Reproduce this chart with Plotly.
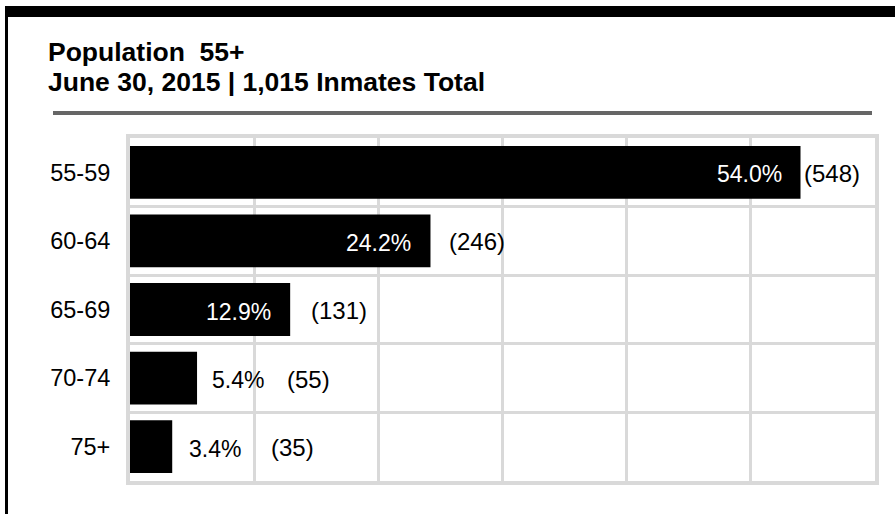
import plotly.graph_objects as go

# ---- data ----
age_groups = ["55-59", "60-64", "65-69", "70-74", "75+"]
percents = [54.0, 24.2, 12.9, 5.4, 3.4]
counts = [548, 246, 131, 55, 35]
title_line1 = "Population\u00a0 55+"
title_line2 = "June 30, 2015 | 1,015 Inmates Total"

# ---- layout geometry (pixels) ----
W, H = 895, 514
ML, MR, MT, MB = 130, 20, 138, 33
PW, PH = W - ML - MR, H - MT - MB

def px(x):
    return (x - ML) / PW

def py(y):
    return (H - MB - y) / PH

FONT = "Liberation Sans, Arial, sans-serif"
GRID = "#d9d9d9"

fig = go.Figure()
fig.add_trace(go.Bar(
    x=percents, y=age_groups, orientation="h",
    marker=dict(color="black", line=dict(width=0)),
    width=0.77, hoverinfo="skip",
))

# label style: percent inside for long bars, outside for short ones
pct_inside = [p > 10 for p in percents]
pct_shift = [-17, -17, -17, 13, 15]
count_shift = [1, 17, 19, 88, 97]

annotations = []
for cat, p, c, ins, ps, cs in zip(age_groups, percents, counts, pct_inside, pct_shift, count_shift):
    annotations.append(dict(
        x=p, y=cat, xref="x", yref="y", text=f"{p:.1f}%", showarrow=False,
        xanchor="right" if ins else "left", xshift=ps, yshift=-2,
        font=dict(family=FONT, size=23, color="white" if ins else "black"),
    ))
    annotations.append(dict(
        x=p, y=cat, xref="x", yref="y", text=f"({c})", showarrow=False,
        xanchor="left", xshift=cs, yshift=-1,
        font=dict(family=FONT, size=24, color="black"),
    ))

# two-line bold title
for txt, yc in [(title_line1, 52), (title_line2, 82)]:
    annotations.append(dict(
        x=px(46), y=py(yc), xref="paper", yref="paper", text=f"<b>{txt}</b>",
        showarrow=False, xanchor="left", yanchor="middle",
        font=dict(family=FONT, size=26.5, color="black"),
    ))

shapes = [
    # top black band
    dict(type="rect", xref="paper", yref="paper", x0=px(5), x1=px(895), y0=py(17), y1=py(6),
         fillcolor="black", line=dict(width=0), layer="above"),
    # left black rule
    dict(type="rect", xref="paper", yref="paper", x0=px(5), x1=px(8), y0=py(514), y1=py(6),
         fillcolor="black", line=dict(width=0), layer="above"),
    # gray rule under title
    dict(type="rect", xref="paper", yref="paper", x0=px(53), x1=px(872), y0=py(115), y1=py(111),
         fillcolor="#666666", line=dict(width=0), layer="above"),
]

fig.update_layout(
    width=W, height=H,
    margin=dict(l=ML, r=MR, t=MT, b=MB, pad=0),
    paper_bgcolor="white", plot_bgcolor="white",
    showlegend=False,
    bargap=0.23,
    annotations=annotations,
    shapes=shapes,
    xaxis=dict(
        range=[0, 60], dtick=10, showticklabels=False, ticks="",
        showgrid=True, gridcolor=GRID, gridwidth=3, zeroline=False,
        showline=True, linecolor=GRID, linewidth=4, mirror=True,
        fixedrange=True,
    ),
    yaxis=dict(
        type="category", categoryorder="array", categoryarray=age_groups,
        autorange="reversed", tickson="boundaries", ticks="",
        showgrid=True, gridcolor=GRID, gridwidth=3,
        showline=True, linecolor=GRID, linewidth=4, mirror=True,
        tickfont=dict(family=FONT, size=23.5, color="black"),
        ticklabelstandoff=11, fixedrange=True,
    ),
    font=dict(family=FONT),
)

fig.write_html(
    "out.html",
    config={"displayModeBar": False},
    post_script="document.body.style.margin='0';document.body.style.overflow='hidden';",
)
